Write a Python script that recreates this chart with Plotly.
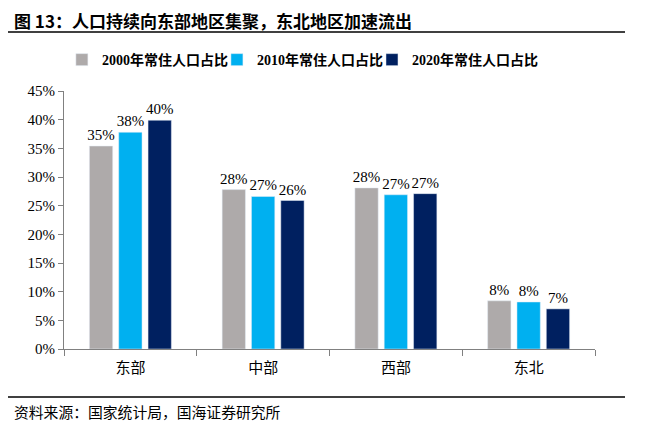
import plotly.graph_objects as go

categories = ["东部", "中部", "西部", "东北"]
series_names = ["2000年常住人口占比", "2010年常住人口占比", "2020年常住人口占比"]
v2000 = [0.354, 0.278, 0.281, 0.084]
v2010 = [0.378, 0.266, 0.269, 0.082]
v2020 = [0.399, 0.259, 0.271, 0.070]
colors = ["#AEAAAA", "#00B0F0", "#002060"]
y_ticks = [0, 0.05, 0.10, 0.15, 0.20, 0.25, 0.30, 0.35, 0.40, 0.45]

SERIF = "Liberation Serif, Times New Roman, Noto Sans CJK SC, serif"
legend_ids = ["legend", "legend2", "legend3"]
legend_x = [-0.004, 0.288, 0.580]

fig = go.Figure()
for name, vals, c, lid in zip(series_names, [v2000, v2010, v2020], colors, legend_ids):
    fig.add_trace(go.Bar(
        x=categories, y=vals, name=name, marker_color=c, legend=lid,
        texttemplate="%{y:.0%}", textposition="outside", constraintext="none",
        textfont=dict(family=SERIF, size=15, color="#000000"),
        cliponaxis=False,
    ))

legend_font = dict(family="Liberation Serif, Noto Sans CJK SC", size=14, color="#000000", weight="bold")
legend_layouts = {}
for lid, lx in zip(legend_ids, legend_x):
    legend_layouts[lid] = dict(orientation="h", x=lx, xanchor="left", y=1.12, yanchor="middle",
                               font=legend_font, itemwidth=30, itemclick=False,
                               bgcolor="rgba(0,0,0,0)")

fig.update_layout(
    width=651, height=424,
    paper_bgcolor="white", plot_bgcolor="white",
    margin=dict(l=56, r=64, t=83, b=83, autoexpand=False),
    barmode="group", bargap=0.337, bargroupgap=0.205,
    font=dict(family=SERIF, size=15, color="#000000"),
    showlegend=True,
    **legend_layouts,
    xaxis=dict(showline=True, linecolor="#808080", linewidth=1, ticks="outside",
               tickson="boundaries", ticklen=6, tickcolor="#808080", ticklabelstandoff=5,
               tickfont=dict(family="Noto Sans CJK SC", size=15)),
    yaxis=dict(range=[0, 0.45], tickvals=y_ticks, tickformat=".0%", showgrid=False,
               showline=True, linecolor="#808080", linewidth=1, ticks="outside",
               ticklen=5, tickcolor="#808080", zeroline=False,
               tickfont=dict(family=SERIF, size=15)),
    shapes=[
        dict(type="line", xref="paper", yref="paper", x0=-0.111, x1=1.0565, y0=1.2287, y1=1.2287,
             line=dict(color="#000000", width=1.5)),
        dict(type="line", xref="paper", yref="paper", x0=-0.111, x1=1.0565, y0=-0.186, y1=-0.186,
             line=dict(color="#000000", width=1.5)),
    ],
    annotations=[
        dict(text="<b>图 13：人口持续向东部地区集聚，东北地区加速流出</b>", xref="paper", yref="paper",
             x=-0.098, y=1.275, xanchor="left", yanchor="middle", showarrow=False,
             font=dict(family="Noto Sans CJK SC", size=17, color="#000000")),
        dict(text="资料来源：国家统计局，国海证券研究所", xref="paper", yref="paper",
             x=-0.098, y=-0.244, xanchor="left", yanchor="middle", showarrow=False,
             font=dict(family="Noto Sans CJK SC", size=14.8, color="#000000")),
    ],
)

fig.write_html("out.html")
